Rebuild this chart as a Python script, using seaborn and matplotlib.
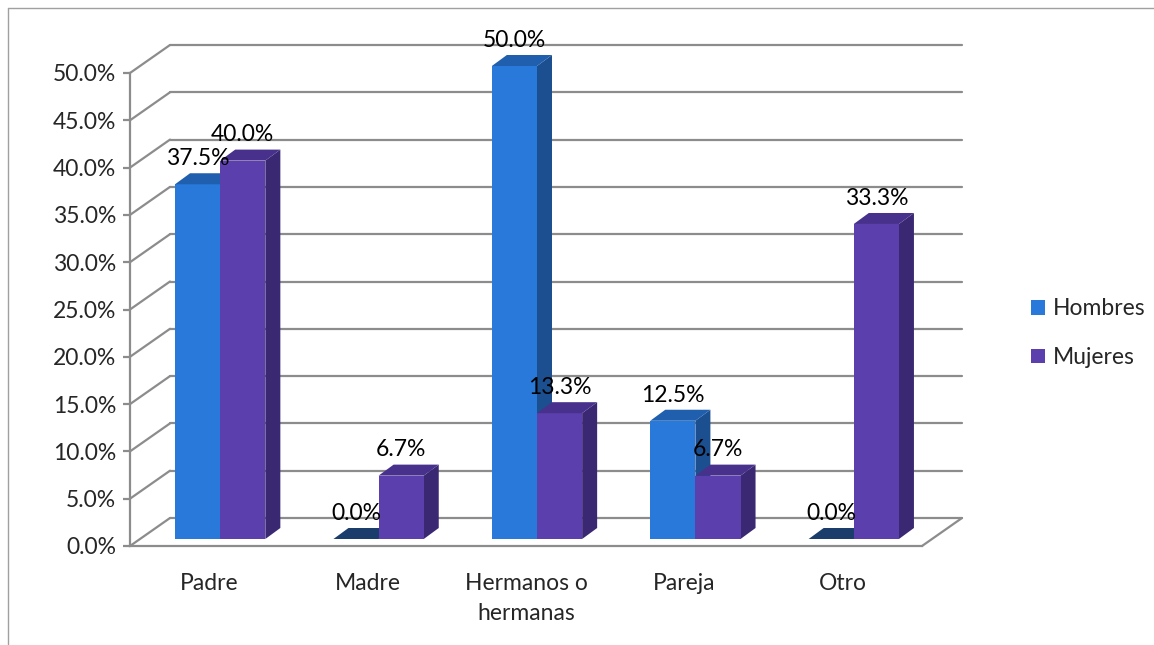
import matplotlib
matplotlib.use("Agg")
import matplotlib.pyplot as plt
from matplotlib.patches import Polygon, Patch
from matplotlib.lines import Line2D
import seaborn as sns
import pandas as pd

# ==================== data ====================
categorias = ['Padre', 'Madre', 'Hermanos o\nhermanas', 'Pareja', 'Otro']
hombres = [37.5, 0.0, 50.0, 12.5, 0.0]
mujeres = [40.0, 6.7, 13.3, 6.7, 33.3]
series = ['Hombres', 'Mujeres']
y_ticks = [0, 5, 10, 15, 20, 25, 30, 35, 40, 45, 50]

# front / top / side colours for each series
colores = {
    'Hombres': ('#2879d9', '#1f5fae', '#1b4f8f'),
    'Mujeres': ('#5b3fad', '#47318c', '#3a2872'),
}

df = pd.DataFrame({
    'Categoria': categorias * 2,
    'Sexo': ['Hombres'] * len(categorias) + ['Mujeres'] * len(categorias),
    'Porcentaje': hombres + mujeres,
})

sns.set_style('white')
plt.rcParams['font.family'] = ['Lato', 'DejaVu Sans']
FS = 16.5

W, H = 1154, 645
fig = plt.figure(figsize=(W / 100, H / 100), dpi=100)

# axes placed in pixels: front floor from x=130 to 922, y=546 (0%) up to 73 (50%)
left, right, bottom, top = 130, 922, 546, 73
ax = fig.add_axes([left / W, (H - bottom) / H, (right - left) / W, (bottom - top) / H])

sns.barplot(data=df, x='Categoria', y='Porcentaje', hue='Sexo',
            palette=[colores[s][0] for s in series], saturation=1,
            width=0.57, errorbar=None, legend=False, ax=ax, zorder=3)

ax.set_xlim(-0.5, 4.5)
ax.set_ylim(0, 50)

# pixel -> data conversion
px_x = (right - left) / 5.0
px_y = (bottom - top) / 50.0

def dx(p):
    return p / px_x

def dy(p):
    return p / px_y

# ==================== 3d walls ====================
wall_dx, wall_dy = dx(40), dy(28)
grid_col = '#8c8c8c'
for v in y_ticks:
    ax.plot([-0.5, -0.5 + wall_dx], [v, v + wall_dy], color=grid_col, lw=1.6,
            clip_on=False, zorder=1)
    ax.plot([-0.5 + wall_dx, 4.5 + wall_dx], [v + wall_dy, v + wall_dy],
            color=grid_col, lw=1.6, clip_on=False, zorder=1)
# right edge of the floor
ax.plot([4.5, 4.5 + wall_dx], [0, wall_dy], color=grid_col, lw=1.6, clip_on=False, zorder=1)

# ==================== 3d bars ====================
off_x, off_y = dx(11), dy(7)
d_x, d_y = dx(15), dy(11)
for i, (serie, cont) in enumerate(zip(series, ax.containers)):
    front, top_c, side_c = colores[serie]
    z = 2 + 2 * i
    for bar, val in zip(cont, cont.datavalues):
        bar.set_x(bar.get_x() + off_x)
        bar.set_y(off_y)
        bar.set_zorder(z + 1)
        bar.set_linewidth(0)
        bar.set_clip_on(False)
        x0, w, y0, h = bar.get_x(), bar.get_width(), off_y, bar.get_height()
        topf = Polygon([(x0, y0 + h), (x0 + w, y0 + h), (x0 + w + d_x, y0 + h + d_y),
                        (x0 + d_x, y0 + h + d_y)], closed=True, facecolor=top_c if h > 0 else '#1a3d6b',
                       edgecolor='none', zorder=z + 1, clip_on=False)
        sidef = Polygon([(x0 + w, y0), (x0 + w + d_x, y0 + d_y), (x0 + w + d_x, y0 + h + d_y),
                         (x0 + w, y0 + h)], closed=True, facecolor=side_c,
                        edgecolor='none', zorder=z, clip_on=False)
        ax.add_patch(sidef)
        ax.add_patch(topf)
        ax.annotate(f'{val:.1f}%', (x0 + w / 2, y0 + h + d_y), xytext=(0, 3),
                    textcoords='offset points', ha='center', va='bottom',
                    fontsize=FS, color='black', zorder=10, annotation_clip=False)

# ==================== axes ====================
sns.despine(ax=ax, top=True, right=True)
for s in ['left', 'bottom']:
    ax.spines[s].set_color(grid_col)
    ax.spines[s].set_linewidth(1.6)
ax.spines['left'].set_zorder(1)
ax.set_yticks(y_ticks)
ax.set_yticklabels([f'{v:.1f}%' for v in y_ticks], fontsize=FS)
ax.tick_params(axis='y', left=True, length=5, width=1.6, color=grid_col, pad=5)
ax.tick_params(axis='x', bottom=False, pad=16)
ax.set_xticks(range(len(categorias)))
ax.set_xticklabels(categorias, fontsize=FS, linespacing=1.5)
ax.set_xlabel('')
ax.set_ylabel('')
ax.patch.set_alpha(0)

# legend
handles = [Patch(facecolor=colores[s][0], edgecolor='none', label=s) for s in series]
fig.legend(handles=handles, loc='upper left', bbox_to_anchor=(1020 / W, 1 - 287 / H),
           frameon=False, fontsize=FS, handlelength=0.6, handleheight=0.6,
           handletextpad=0.35, labelspacing=1.2, borderpad=0)

# outer border of the chart area
fig.add_artist(Line2D([8 / W, 8 / W], [0, 1 - 8 / H], color='#a0a0a0', lw=1))
fig.add_artist(Line2D([8 / W, 1], [1 - 8 / H, 1 - 8 / H], color='#a0a0a0', lw=1))

fig.savefig('out.png', dpi=100)
